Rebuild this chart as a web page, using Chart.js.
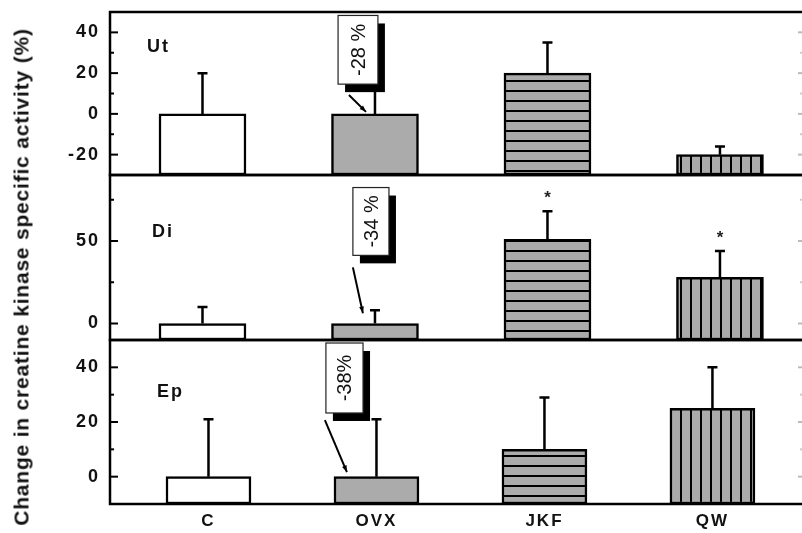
<!DOCTYPE html>
<html><head><meta charset="utf-8">
<script src="https://cdn.jsdelivr.net/npm/chart.js@4.4.1/dist/chart.umd.min.js"></script>
<style>
html,body{margin:0;padding:0;background:#fff;overflow:hidden;width:802px;height:533px;}
#wrap{position:relative;width:802px;height:533px;overflow:hidden;background:#fff;}
canvas{position:absolute;left:0;}
#ytitle{position:absolute;left:21px;top:277px;transform:translate(-50%,-50%) rotate(-90deg);font:bold 21px 'Liberation Sans',Arial,sans-serif;letter-spacing:0.8px;white-space:nowrap;line-height:21px;color:#111;}
</style></head><body>
<div id="wrap">
<canvas id="c1" width="810" height="180" style="top:0px;width:810px;height:180px"></canvas>
<canvas id="c2" width="810" height="175" style="top:170px;width:810px;height:175px"></canvas>
<canvas id="c3" width="810" height="198" style="top:335px;width:810px;height:198px"></canvas>
<div id="ytitle">Change in creatine kinase specific activity (%)</div>
</div>
<script>
// ---- data ----
const categories = ['C', 'OVX', 'JKF', 'QW'];
const utValues = [0, 0, 20, -20];
const utErrors = [20, 16, 15, 4];
const diValues = [0, 0, 51, 28];
const diErrors = [10, 8, 17, 16];
const diSignificant = [false, false, true, true];
const epValues = [0, 0, 10, 25];
const epErrors = [21, 21, 19, 15];
const utTicks = [-20, 0, 20, 40];
const utMinorTicks = [-10, 10, 30];
const diTicks = [0, 50];
const diMinorTicks = [25, 75];
const epTicks = [0, 20, 40];
const epMinorTicks = [10, 30];
const panelNames = ['Ut', 'Di', 'Ep'];
const calloutTexts = ['-28 %', '-34 %', '-38%'];

// ---- style ----
const FONT = "'Liberation Sans', Arial, sans-serif";
const GRAY = '#ababab';
Chart.defaults.font.family = FONT;
Chart.defaults.color = '#111';

function stripes(dir) {
  const c = document.createElement('canvas');
  c.width = 10; c.height = 10;
  const g = c.getContext('2d');
  g.fillStyle = GRAY; g.fillRect(0, 0, 10, 10);
  g.fillStyle = '#000';
  if (dir === 'h') g.fillRect(0, 0, 10, 2); else g.fillRect(0, 0, 2, 10);
  return g.createPattern(c, 'repeat');
}
const fills = ['#ffffff', GRAY, stripes('h'), stripes('v')];

function decoPlugin(p) {
  return {
    id: 'deco' + p.name,
    beforeDraw(chart) { chart.ctx.letterSpacing = '2px'; },
    afterDatasetsDraw(chart) {
      const ctx = chart.ctx, ys = chart.scales.y, meta = chart.getDatasetMeta(0);
      ctx.save();
      ctx.strokeStyle = '#000'; ctx.lineWidth = 2.5;
      p.values.forEach((v, i) => {
        const x = meta.data[i].x;
        const y0 = ys.getPixelForValue(v), y1 = ys.getPixelForValue(v + p.errors[i]);
        ctx.beginPath();
        ctx.moveTo(x, y0); ctx.lineTo(x, y1);
        ctx.moveTo(x - 5, y1); ctx.lineTo(x + 5, y1);
        ctx.stroke();
        if (p.sig && p.sig[i]) {
          ctx.letterSpacing = '0px';
          ctx.fillStyle = '#222';
          ctx.font = 'bold 17px ' + FONT;
          ctx.textAlign = 'center'; ctx.textBaseline = 'alphabetic';
          ctx.fillText('*', x, y1 - 18 + 10);
        }
      });
      ctx.restore();
    },
    afterDraw(chart) {
      const ctx = chart.ctx, a = chart.chartArea, ys = chart.scales.y, xs = chart.scales.x;
      ctx.save();
      // frame
      ctx.strokeStyle = '#000'; ctx.lineWidth = 2.5;
      ctx.strokeRect(a.left, a.top, a.right - a.left, a.bottom - a.top);
      // inward ticks
      ctx.lineWidth = 2;
      p.ticks.forEach(t => {
        const y = ys.getPixelForValue(t);
        ctx.strokeStyle = '#000';
        ctx.beginPath(); ctx.moveTo(a.left, y); ctx.lineTo(a.left + 8, y); ctx.stroke();
        ctx.strokeStyle = '#bbb';
        ctx.beginPath(); ctx.moveTo(a.right, y); ctx.lineTo(a.right - 7, y); ctx.stroke();
      });
      p.minor.forEach(t => {
        const y = ys.getPixelForValue(t);
        ctx.strokeStyle = '#000';
        ctx.beginPath(); ctx.moveTo(a.left, y); ctx.lineTo(a.left + 4, y); ctx.stroke();
        ctx.strokeStyle = '#ccc';
        ctx.beginPath(); ctx.moveTo(a.right, y); ctx.lineTo(a.right - 5, y); ctx.stroke();
      });
      // panel label
      ctx.fillStyle = '#111';
      ctx.letterSpacing = '2px';
      ctx.font = 'bold 18px ' + FONT;
      ctx.textAlign = 'left'; ctx.textBaseline = 'alphabetic';
      ctx.fillText(p.name, a.left + p.label.dx, a.top + p.label.dy);
      // callout
      const c = p.callout;
      const ax = xs.getPixelForValue(c.arrow[0]), ay = ys.getPixelForValue(c.arrow[1]);
      const bx = xs.getPixelForValue(c.arrow[2]), by = ys.getPixelForValue(c.arrow[3]);
      ctx.strokeStyle = '#000'; ctx.fillStyle = '#000'; ctx.lineWidth = 2;
      ctx.beginPath(); ctx.moveTo(ax, ay); ctx.lineTo(bx, by); ctx.stroke();
      const ang = Math.atan2(by - ay, bx - ax), hs = 7;
      ctx.beginPath();
      ctx.moveTo(bx, by);
      ctx.lineTo(bx - hs * Math.cos(ang - 0.35), by - hs * Math.sin(ang - 0.35));
      ctx.lineTo(bx - hs * Math.cos(ang + 0.35), by - hs * Math.sin(ang + 0.35));
      ctx.closePath(); ctx.fill();
      const x0 = xs.getPixelForValue(c.box[0]), x1 = xs.getPixelForValue(c.box[1]);
      const y0 = ys.getPixelForValue(c.box[2]), y1 = ys.getPixelForValue(c.box[3]);
      ctx.fillStyle = '#000';
      ctx.fillRect(x0 + 7, y0 + 8, x1 - x0, y1 - y0);
      ctx.fillStyle = '#fff';
      ctx.fillRect(x0, y0, x1 - x0, y1 - y0);
      ctx.strokeStyle = '#222'; ctx.lineWidth = 1.2;
      ctx.strokeRect(x0, y0, x1 - x0, y1 - y0);
      ctx.translate((x0 + x1) / 2 + 7, (y0 + y1) / 2);
      ctx.rotate(-Math.PI / 2);
      ctx.letterSpacing = '0px';
      ctx.fillStyle = '#111';
      ctx.font = '20px ' + FONT;
      ctx.textAlign = 'center'; ctx.textBaseline = 'alphabetic';
      ctx.fillText(c.text, 0, 0);
      ctx.restore();
    }
  };
}

function makePanel(p) {
  const data = p.values.map((v, i) => ({ x: i + 1, y: [p.range[0], v] }));
  return new Chart(document.getElementById(p.canvas), {
    type: 'bar',
    data: {
      datasets: [{
        data: data,
        backgroundColor: fills,
        borderColor: '#000',
        borderWidth: 2.5,
        borderSkipped: false,
        barThickness: p.barThickness
      }]
    },
    options: {
      responsive: false,
      animation: false,
      devicePixelRatio: 1,
      layout: { padding: { top: p.padTop, bottom: p.padBottom, left: 0, right: 5 } },
      plugins: { legend: { display: false }, tooltip: { enabled: false } },
      scales: {
        x: {
          type: 'linear', min: p.xRange[0], max: p.xRange[1], offset: false,
          display: p.showX,
          afterBuildTicks(s) { s.ticks = categories.map((c, i) => ({ value: i + 1 })); },
          afterFit(s) { s.height = p.showX ? 29 : 0; s.paddingLeft = 0; s.paddingRight = 0; },
          grid: { display: false, drawTicks: false },
          border: { display: false },
          ticks: {
            autoSkip: false, maxRotation: 0, padding: 7, color: '#111',
            font: { size: 17, weight: 'bold', family: FONT },
            callback: v => categories[v - 1]
          }
        },
        y: {
          type: 'linear', min: p.range[0], max: p.range[1],
          afterBuildTicks(s) { s.ticks = p.ticks.map(v => ({ value: v })); },
          afterFit(s) { s.width = 110; s.paddingTop = 0; s.paddingBottom = 0; },
          grid: { display: false, drawTicks: false },
          border: { display: false },
          ticks: {
            padding: 10, color: '#111',
            font: { size: 18, weight: 'bold', family: FONT },
            callback: v => String(v)
          }
        }
      }
    },
    plugins: [decoPlugin(p)]
  });
}

makePanel({
  name: panelNames[0], canvas: 'c1', padTop: 12, padBottom: 5, showX: false,
  values: utValues, errors: utErrors, range: [-30, 50], ticks: utTicks, minor: utMinorTicks,
  xRange: [0.4638, 4.493], barThickness: 87, label: { dx: 37, dy: 40 },
  callout: { text: calloutTexts[0], box: [1.786, 2.017, 48.3, 14.6], arrow: [1.849, 9.3, 1.948, 1] }
});
makePanel({
  name: panelNames[1], canvas: 'c2', padTop: 5, padBottom: 5, showX: false,
  values: diValues, errors: diErrors, sig: diSignificant, range: [-10, 90], ticks: diTicks, minor: diMinorTicks,
  xRange: [0.4638, 4.493], barThickness: 87, label: { dx: 42, dy: 62 },
  callout: { text: calloutTexts[1], box: [1.872, 2.081, 82.4, 41.3], arrow: [1.872, 34, 1.93, 6.2] }
});
makePanel({
  name: panelNames[2], canvas: 'c3', padTop: 5, padBottom: 0, showX: true,
  values: epValues, errors: epErrors, range: [-10, 50], ticks: epTicks, minor: epMinorTicks,
  xRange: [0.4137, 4.551], barThickness: 85, label: { dx: 47, dy: 57 },
  callout: { text: calloutTexts[2], box: [1.699, 1.920, 48.9, 23.3], arrow: [1.693, 20.7, 1.824, 1.7] }
});
</script>
</body></html>
